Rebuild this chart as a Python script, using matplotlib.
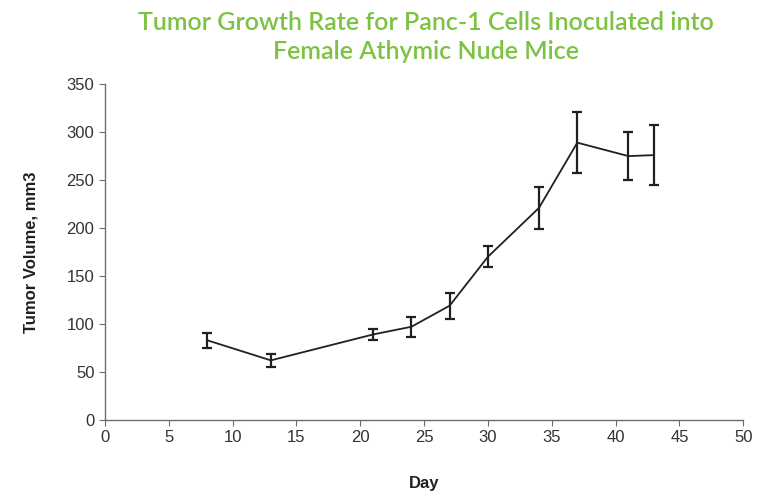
import matplotlib.pyplot as plt
import numpy as np

days = [8, 13, 21, 24, 27, 30, 34, 37, 41, 43]
volume = [83, 62, 89, 97, 119, 170, 221, 289, 275, 276]
error = [8, 7, 5.5, 10.5, 13.5, 11, 22, 32, 25, 31]

plt.rcParams["font.family"] = ["Liberation Sans", "DejaVu Sans"]

fig = plt.figure(figsize=(7.6, 4.98), dpi=100)
ax = fig.add_axes([0.138, 0.157, 0.840, 0.674])

ax.errorbar(days, volume, yerr=error, color="#231f20", linewidth=1.3,
            elinewidth=1.6, capsize=3.8, capthick=1.6)

ax.set_xlim(0, 50)
ax.set_ylim(0, 350)
ax.set_xticks(np.arange(0, 51, 5))
ax.set_yticks(np.arange(0, 351, 50))

for spine in ["top", "right"]:
    ax.spines[spine].set_visible(False)
for spine in ["left", "bottom"]:
    ax.spines[spine].set_color("#6d6d6d")
    ax.spines[spine].set_linewidth(1.0)
ax.tick_params(colors="#6d6d6d", labelcolor="#333333", labelsize=12, length=4)

ax.set_xlabel("Day", fontsize=12, fontweight="bold", color="#231f20", labelpad=22)
ax.set_ylabel("Tumor Volume, mm3", fontsize=12, fontweight="bold", color="#231f20", labelpad=20)

fig.text(0.56, 0.978, "Tumor Growth Rate for Panc-1 Cells Inoculated into\nFemale Athymic Nude Mice",
         ha="center", va="top", fontsize=18, fontweight="semibold", color="#7dc242",
         family=["Lato", "DejaVu Sans"], linespacing=1.3)

fig.savefig("out.png", dpi=100)
